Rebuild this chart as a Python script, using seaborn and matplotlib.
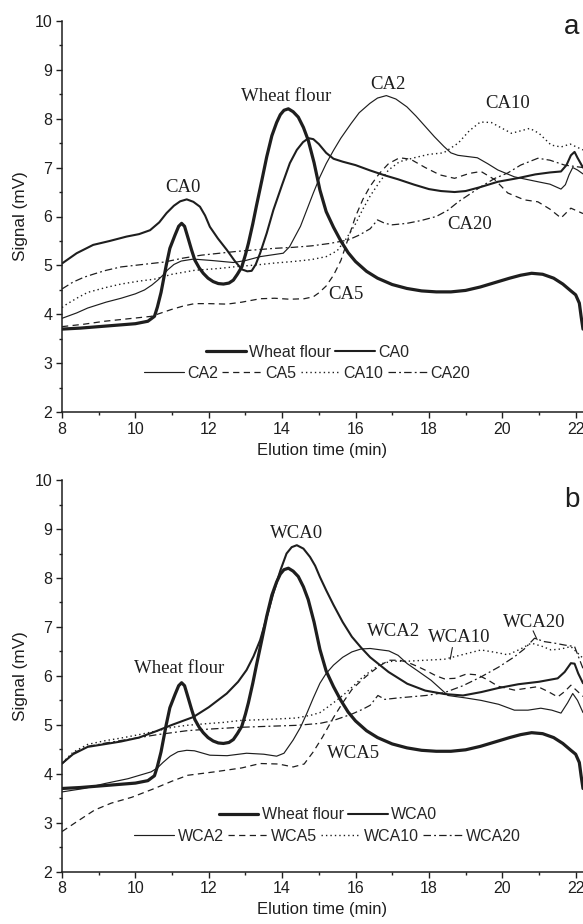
import numpy as np
import pandas as pd
import matplotlib
matplotlib.use("Agg")
import matplotlib.pyplot as plt
from matplotlib.ticker import MultipleLocator
import seaborn as sns

# ---------------- data: elution profiles (signal in mV vs time in min) ----------------
wf_x = [8.0, 8.5, 9.0, 9.5, 10.0, 10.34, 10.52, 10.6, 10.7, 10.84, 10.94, 11.08, 11.18,
        11.26, 11.34, 11.44, 11.53, 11.62, 11.74, 11.85, 11.98, 12.12, 12.26, 12.4, 12.55,
        12.67, 12.78, 12.9, 13.0, 13.08, 13.2, 13.3, 13.45, 13.58, 13.72, 13.85, 13.95,
        14.05, 14.17, 14.3, 14.44, 14.58, 14.71, 14.87, 15.03, 15.2, 15.4, 15.6, 15.8,
        16.0, 16.3, 16.6, 17.0, 17.4, 17.8, 18.2, 18.6, 19.0, 19.4, 19.8, 20.2, 20.5,
        20.8, 21.1, 21.4, 21.65, 21.87, 22.0, 22.1, 22.15, 22.2]
wf_y = [3.7, 3.72, 3.75, 3.78, 3.81, 3.86, 3.96, 4.15, 4.45, 5.0, 5.35, 5.62, 5.8,
        5.86, 5.8, 5.55, 5.32, 5.11, 4.95, 4.84, 4.74, 4.67, 4.63, 4.62, 4.64,
        4.7, 4.82, 4.97, 5.22, 5.45, 5.85, 6.22, 6.75, 7.22, 7.65, 7.92, 8.08,
        8.17, 8.2, 8.14, 8.03, 7.82, 7.56, 7.1, 6.54, 6.1, 5.78, 5.5, 5.26,
        5.08, 4.88, 4.74, 4.61, 4.53, 4.48, 4.46, 4.46, 4.49, 4.56, 4.65, 4.74, 4.8,
        4.84, 4.82, 4.74, 4.62, 4.48, 4.4, 4.23, 3.95, 3.7]

ca0_x = [8.0, 8.4, 8.85, 9.3, 9.76, 10.1, 10.4, 10.65, 10.85, 11.05, 11.22, 11.4, 11.58,
         11.76, 11.9, 12.03, 12.25, 12.49, 12.7, 12.9, 13.05, 13.17, 13.28, 13.4, 13.58,
         13.76, 14.0, 14.21, 14.4, 14.57, 14.72, 14.85, 15.0, 15.2, 15.4, 15.65, 16.0,
         16.4, 16.8, 17.16, 17.6, 18.0, 18.33, 18.7, 19.0, 19.4, 19.88, 20.4, 20.9, 21.3,
         21.6, 21.75, 21.87, 21.97, 22.05, 22.2]
ca0_y = [5.04, 5.25, 5.42, 5.5, 5.59, 5.64, 5.72, 5.88, 6.07, 6.22, 6.31, 6.35, 6.3,
         6.2, 6.02, 5.79, 5.55, 5.32, 5.1, 4.92, 4.88, 4.89, 5.02, 5.25, 5.66,
         6.13, 6.65, 7.09, 7.36, 7.52, 7.6, 7.58, 7.48, 7.3, 7.18, 7.12, 7.05,
         6.94, 6.84, 6.76, 6.65, 6.56, 6.52, 6.5, 6.52, 6.6, 6.71, 6.78, 6.86, 6.9,
         6.92, 7.05, 7.25, 7.32, 7.2, 7.0]

ca2_x = [8.0, 8.4, 8.7, 9.2, 9.61, 10.0, 10.25, 10.45, 10.61, 10.75, 10.88, 11.05, 11.25,
         11.58, 12.1, 12.67, 13.0, 13.4, 14.03, 14.2, 14.3, 14.5, 14.67, 14.85, 15.03,
         15.2, 15.4, 15.6, 15.88, 16.1, 16.39, 16.6, 16.84, 17.1, 17.4, 17.65, 17.9,
         18.15, 18.41, 18.6, 18.79, 19.0, 19.32, 19.6, 19.88, 20.33, 20.97, 21.3, 21.6,
         21.72, 21.82, 21.92, 22.05, 22.2]
ca2_y = [3.92, 4.03, 4.13, 4.25, 4.33, 4.42, 4.5, 4.6, 4.7, 4.8, 4.91, 5.02, 5.09,
         5.13, 5.1, 5.06, 5.1, 5.18, 5.25, 5.38, 5.52, 5.8, 6.13, 6.48, 6.81,
         7.08, 7.35, 7.6, 7.9, 8.12, 8.31, 8.42, 8.47, 8.4, 8.24, 8.05, 7.84,
         7.63, 7.43, 7.3, 7.25, 7.23, 7.2, 7.08, 6.95, 6.81, 6.71, 6.66, 6.56,
         6.65, 6.85, 7.0, 6.95, 6.87]

ca5_x = [8.0, 8.6, 9.16, 9.8, 10.43, 10.98, 11.3, 11.61, 12.0, 12.5, 12.9, 13.4, 13.8,
         14.2, 14.6, 14.85, 15.0, 15.2, 15.4, 15.6, 15.8, 16.0, 16.2, 16.4, 16.65, 16.9,
         17.2, 17.5, 17.9, 18.3, 18.7, 19.1, 19.42, 19.8, 20.15, 20.6, 20.97, 21.3, 21.6,
         21.87, 22.2]
ca5_y = [3.75, 3.8, 3.86, 3.91, 3.96, 4.1, 4.17, 4.22, 4.22, 4.21, 4.25, 4.32, 4.33,
         4.31, 4.32, 4.36, 4.44, 4.58, 4.8, 5.1, 5.55, 6.0, 6.35, 6.62, 6.88, 7.08,
         7.2, 7.17, 7.0, 6.85, 6.78, 6.88, 6.92, 6.75, 6.48, 6.34, 6.3, 6.15, 5.97,
         6.17, 6.06]

ca10_x = [8.0, 8.11, 8.4, 8.7, 9.2, 9.61, 10.1, 10.52, 11.0, 11.61, 12.3, 12.8, 13.3,
          13.8, 14.3, 14.8, 15.2, 15.5, 15.75, 16.0, 16.2, 16.4, 16.65, 16.9, 17.2, 17.6,
          18.0, 18.4, 18.8, 19.1, 19.4, 19.7, 20.0, 20.25, 20.5, 20.75, 21.0, 21.33,
          21.6, 21.85, 22.2]
ca10_y = [4.14, 4.2, 4.33, 4.45, 4.55, 4.62, 4.68, 4.72, 4.82, 4.9, 4.94, 4.98, 5.01,
          5.05, 5.08, 5.12, 5.18, 5.3, 5.55, 5.85, 6.15, 6.42, 6.7, 6.95, 7.12, 7.2,
          7.27, 7.3, 7.5, 7.75, 7.93, 7.92, 7.8, 7.7, 7.75, 7.8, 7.7, 7.46,
          7.42, 7.48, 7.36]

ca20_x = [8.0, 8.3, 8.6, 8.89, 9.2, 9.61, 10.2, 10.79, 11.3, 11.8, 12.3, 12.8, 13.3,
          13.8, 14.3, 14.8, 15.3, 15.8, 16.1, 16.4, 16.6, 16.8, 17.0, 17.4, 17.8, 18.2,
          18.52, 18.8, 19.1, 19.42, 19.8, 20.15, 20.5, 20.97, 21.3, 21.7, 22.2]
ca20_y = [4.52, 4.66, 4.76, 4.83, 4.9, 4.97, 5.02, 5.07, 5.15, 5.21, 5.25, 5.29, 5.32,
          5.35, 5.37, 5.4, 5.45, 5.52, 5.62, 5.75, 5.93, 5.86, 5.83, 5.86, 5.92, 6.0,
          6.13, 6.3, 6.45, 6.61, 6.78, 6.89, 7.05, 7.19, 7.15, 7.05, 7.0]

wca0_x = [8.0, 8.3, 8.7, 9.2, 9.61, 10.1, 10.6, 11.0, 11.58, 12.0, 12.49, 12.8, 13.03,
          13.22, 13.4, 13.58, 13.76, 13.95, 14.12, 14.26, 14.4, 14.58, 14.76, 14.9, 15.03,
          15.2, 15.4, 15.65, 15.9, 16.15, 16.4, 16.9, 17.41, 17.9, 18.42, 18.93, 19.43,
          19.88, 20.44, 21.0, 21.51, 21.7, 21.87, 21.97, 22.07, 22.2]
wca0_y = [4.21, 4.4, 4.55, 4.61, 4.66, 4.74, 4.88, 5.0, 5.16, 5.36, 5.64, 5.88, 6.12,
          6.4, 6.73, 7.2, 7.69, 8.15, 8.5, 8.63, 8.67, 8.6, 8.43, 8.25, 8.02,
          7.75, 7.45, 7.1, 6.8, 6.58, 6.38, 6.08, 5.84, 5.7, 5.63, 5.6, 5.67,
          5.75, 5.83, 5.88, 5.95, 6.08, 6.26, 6.25, 6.05, 5.85]

wca2_x = [8.0, 8.6, 9.16, 9.8, 10.43, 10.6, 10.75, 10.95, 11.16, 11.4, 11.61, 12.03, 12.5,
          13.03, 13.5, 13.85, 14.05, 14.3, 14.5, 14.67, 14.85, 15.03, 15.2, 15.4, 15.65,
          15.9, 16.15, 16.4, 16.91, 17.16, 17.41, 17.7, 18.06, 18.52, 19.0, 19.42, 19.9,
          20.33, 20.7, 21.05, 21.35, 21.6, 21.78, 21.92, 22.05, 22.2]
wca2_y = [3.63, 3.7, 3.8, 3.9, 4.04, 4.12, 4.23, 4.36, 4.45, 4.48, 4.47, 4.38, 4.37,
          4.42, 4.4, 4.36, 4.42, 4.69, 4.95, 5.23, 5.55, 5.85, 6.05, 6.22, 6.38,
          6.49, 6.55, 6.56, 6.51, 6.42, 6.25, 6.1, 5.91, 5.6, 5.55, 5.5, 5.42,
          5.3, 5.3, 5.34, 5.3, 5.24, 5.45, 5.64, 5.5, 5.25]

wca5_x = [8.0, 8.4, 8.89, 9.34, 9.9, 10.52, 11.0, 11.43, 12.16, 12.9, 13.4, 13.9, 14.3,
          14.6, 14.85, 15.1, 15.4, 15.65, 15.9, 16.15, 16.4, 16.65, 16.91, 17.2, 17.41,
          17.7, 17.92, 18.2, 18.42, 18.7, 19.03, 19.33, 19.6, 19.88, 20.33, 20.6, 20.97,
          21.25, 21.51, 21.7, 21.87, 22.2]
wca5_y = [2.82, 3.02, 3.26, 3.4, 3.52, 3.7, 3.85, 3.97, 4.04, 4.12, 4.21, 4.2, 4.14,
          4.2, 4.45, 4.75, 5.15, 5.45, 5.72, 5.9, 6.06, 6.2, 6.32, 6.32, 6.28,
          6.19, 6.11, 6.0, 5.94, 5.95, 6.04, 6.02, 5.92, 5.79, 5.71, 5.74, 5.78,
          5.68, 5.57, 5.68, 5.81, 5.58]

wca10_x = [8.0, 8.3, 8.7, 9.2, 9.61, 10.1, 10.6, 11.0, 11.4, 11.87, 12.4, 12.87, 13.6,
           14.39, 14.8, 15.03, 15.2, 15.45, 15.7, 15.95, 16.2, 16.45, 16.71, 17.0, 17.41,
           17.9, 18.42, 19.0, 19.42, 19.9, 20.15, 20.5, 20.79, 21.1, 21.33, 21.6, 21.87,
           22.2]
wca10_y = [4.22, 4.44, 4.6, 4.68, 4.73, 4.8, 4.88, 4.95, 4.99, 5.02, 5.05, 5.09, 5.11,
           5.14, 5.2, 5.25, 5.34, 5.48, 5.63, 5.8, 5.98, 6.12, 6.25, 6.3, 6.3,
           6.32, 6.34, 6.45, 6.53, 6.47, 6.43, 6.55, 6.67, 6.6, 6.53, 6.55, 6.6,
           6.36]

wca20_x = [8.0, 8.3, 8.7, 9.2, 9.61, 10.1, 10.6, 11.0, 11.4, 11.94, 12.4, 12.87, 13.6,
           14.39, 15.03, 15.4, 15.9, 16.2, 16.4, 16.61, 16.8, 17.16, 17.92, 18.43, 18.93,
           19.42, 19.9, 20.33, 20.6, 20.88, 21.15, 21.42, 21.7, 21.97, 22.2]
wca20_y = [4.2, 4.42, 4.56, 4.63, 4.68, 4.74, 4.8, 4.84, 4.88, 4.91, 4.93, 4.95, 4.97,
           4.99, 5.03, 5.09, 5.22, 5.32, 5.4, 5.6, 5.52, 5.55, 5.6, 5.66, 5.8,
           5.98, 6.18, 6.39, 6.55, 6.77, 6.7, 6.67, 6.63, 6.6, 6.15]

x_ticks = [8, 10, 12, 14, 16, 18, 20, 22]
y_ticks = [2, 3, 4, 5, 6, 7, 8, 9, 10]

# ---------------- styling ----------------
sns.set_style("ticks")
plt.rcParams["font.family"] = ["Liberation Sans", "DejaVu Sans"]
plt.rcParams["axes.linewidth"] = 1.1
SERIF = ["Liberation Serif", "DejaVu Serif"]
INK = "#1e1e1e"

styles = {
    "thick": dict(lw=2.3, ls="-"),
    "medium": dict(lw=1.5, ls="-"),
    "thin": dict(lw=0.85, ls="-"),
    "dash": dict(lw=0.9, ls=(0, (5, 3.5))),
    "dot": dict(lw=1.0, ls=(0, (1, 2.2))),
    "dashdot": dict(lw=0.9, ls=(0, (6, 2.5, 1.5, 2.5))),
}


def draw(ax, xs, ys, label, style):
    df = pd.DataFrame({"time": xs, "signal": ys})
    sns.lineplot(data=df, x="time", y="signal", ax=ax, color=INK, sort=False,
                 estimator=None, linewidth=styles[style]["lw"],
                 linestyle=styles[style]["ls"], label=label)


def format_axes(ax, letter, letter_y):
    ax.set_xlim(8, 22.2)
    ax.set_ylim(2, 10)
    ax.set_xticks(x_ticks)
    ax.set_yticks(y_ticks)
    ax.xaxis.set_minor_locator(MultipleLocator(1))
    ax.yaxis.set_minor_locator(MultipleLocator(0.5))
    ax.tick_params(which="major", direction="out", length=4.0, width=1.0,
                   labelsize=11.5, pad=3, colors=INK)
    ax.tick_params(which="minor", direction="out", length=2.0, width=1.0, colors=INK)
    ax.set_xlabel("Elution time (min)", fontsize=12, labelpad=4, color=INK)
    ax.set_ylabel("Signal (mV)", fontsize=12.3, labelpad=5, color=INK)
    sns.despine(ax=ax)
    for side in ("left", "bottom"):
        ax.spines[side].set_color(INK)
    ax.text(21.9, letter_y, letter, fontsize=20, ha="center", va="center", color=INK)


def two_row_legend(ax, names, cx, y1, y2):
    handles = {l.get_label(): l for l in ax.get_lines()}
    if ax.get_legend() is not None:
        ax.get_legend().remove()
    common = dict(loc="center", frameon=False, fontsize=11.5, handlelength=2.5,
                  handletextpad=0.2, columnspacing=0.25, borderpad=0, borderaxespad=0)
    first = ax.legend([handles[n] for n in names[:2]], names[:2], ncol=2,
                      bbox_to_anchor=(cx, y1), **common)
    ax.add_artist(first)
    ax.legend([handles[n] for n in names[2:]], names[2:], ncol=4,
              bbox_to_anchor=(cx, y2), **common)


fig = plt.figure(figsize=(5.83, 9.24), dpi=100)
W, H = 583.0, 924.0
ax_a = fig.add_axes([62 / W, 1 - 412.3 / H, 521 / W, 391.6 / H])
ax_b = fig.add_axes([62 / W, 1 - 871.7 / H, 521 / W, 391.6 / H])

# ---------------- panel a ----------------
draw(ax_a, wf_x, wf_y, "Wheat flour", "thick")
draw(ax_a, ca0_x, ca0_y, "CA0", "medium")
draw(ax_a, ca2_x, ca2_y, "CA2", "thin")
draw(ax_a, ca5_x, ca5_y, "CA5", "dash")
draw(ax_a, ca10_x, ca10_y, "CA10", "dot")
draw(ax_a, ca20_x, ca20_y, "CA20", "dashdot")
format_axes(ax_a, "a", 9.87)
two_row_legend(ax_a, ["Wheat flour", "CA0", "CA2", "CA5", "CA10", "CA20"],
               0.471, 0.1525, 0.10)

notes_a = [("CA0", 11.3, 6.6), ("Wheat flour", 14.1, 8.46), ("CA2", 16.88, 8.69),
           ("CA10", 20.15, 8.31), ("CA20", 19.1, 5.83), ("CA5", 15.75, 4.4)]
for txt, x, y in notes_a:
    ax_a.text(x, y, txt, family=SERIF, fontsize=13.5, ha="center", va="center", color=INK)

# ---------------- panel b ----------------
draw(ax_b, wf_x, wf_y, "Wheat flour", "thick")
draw(ax_b, wca0_x, wca0_y, "WCA0", "medium")
draw(ax_b, wca2_x, wca2_y, "WCA2", "thin")
draw(ax_b, wca5_x, wca5_y, "WCA5", "dash")
draw(ax_b, wca10_x, wca10_y, "WCA10", "dot")
draw(ax_b, wca20_x, wca20_y, "WCA20", "dashdot")
format_axes(ax_b, "b", 9.59)
two_row_legend(ax_b, ["Wheat flour", "WCA0", "WCA2", "WCA5", "WCA10", "WCA20"],
               0.51, 0.145, 0.091)

notes_b = [("WCA0", 14.38, 8.9), ("Wheat flour", 11.2, 6.15), ("WCA2", 17.03, 6.91),
           ("WCA10", 18.82, 6.79), ("WCA20", 20.87, 7.1), ("WCA5", 15.95, 4.41)]
for txt, x, y in notes_b:
    ax_b.text(x, y, txt, family=SERIF, fontsize=13.5, ha="center", va="center", color=INK)

# short leader lines from labels to their curves
ax_b.plot([18.64, 18.58], [6.58, 6.34], color=INK, lw=0.8)
ax_b.plot([20.84, 20.95], [6.92, 6.74], color=INK, lw=0.8)

fig.savefig("out.png", dpi=100)
